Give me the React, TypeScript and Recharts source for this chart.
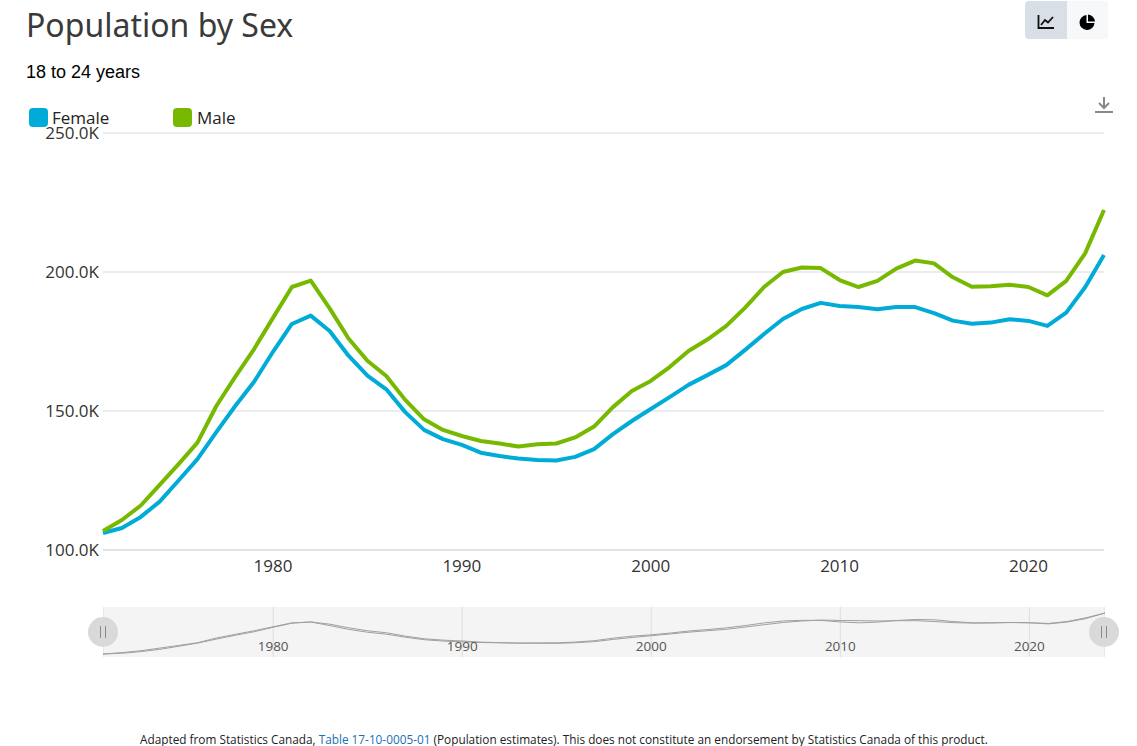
import { LineChart, Line, XAxis, YAxis, CartesianGrid } from 'recharts'

const years = [
  1971, 1972, 1973, 1974, 1975, 1976, 1977, 1978, 1979, 1980, 1981, 1982, 1983, 1984, 1985, 1986, 1987, 1988,
  1989, 1990, 1991, 1992, 1993, 1994, 1995, 1996, 1997, 1998, 1999, 2000, 2001, 2002, 2003, 2004, 2005, 2006,
  2007, 2008, 2009, 2010, 2011, 2012, 2013, 2014, 2015, 2016, 2017, 2018, 2019, 2020, 2021, 2022, 2023, 2024,
]

// thousands of persons
const female = [
  106.1, 107.9, 111.9, 117.4, 125, 132.7, 142.4, 151.8, 160.5, 171.3, 181.3, 184.3, 178.8, 169.9, 162.7, 157.8, 149.6, 143.2,
  139.9, 137.8, 135, 133.8, 132.9, 132.4, 132.2, 133.5, 136.3, 141.7, 146.4, 150.7, 155, 159.4, 162.9, 166.5, 172, 177.7,
  183.1, 186.7, 188.9, 187.8, 187.4, 186.6, 187.4, 187.4, 185.2, 182.5, 181.4, 181.8, 183, 182.4, 180.6, 185.4, 194.5, 206.1,
]

const male = [
  106.8, 110.8, 116, 123.4, 130.9, 138.6, 151.8, 162.3, 172.3, 183.5, 194.6, 196.9, 186.9, 176.1, 168.1, 162.6, 154, 147,
  143.2, 141, 139.2, 138.3, 137.2, 138, 138.3, 140.5, 144.4, 151.4, 157.2, 160.8, 165.8, 171.6, 175.7, 180.6, 187.2, 194.6,
  200, 201.6, 201.4, 197.1, 194.6, 196.8, 201.2, 204.1, 203.1, 198.1, 194.7, 194.9, 195.4, 194.6, 191.6, 196.8, 206.7, 222.3,
]

const yTicks = [100, 150, 200, 250]
const xTicks = [1980, 1990, 2000, 2010, 2020]

const COLORS = {
  female: '#00acd7',
  male: '#76b900',
}

const legendItems = [
  { label: 'Female', color: COLORS.female, left: 29, textLeft: 52 },
  { label: 'Male', color: COLORS.male, left: 173, textLeft: 197 },
]

const data = years.map((year, i) => ({ year, female: female[i], male: male[i] }))

const FONT = '"Open Sans", sans-serif'

// overview strip scales each series to its own min/max
function stripDomain(values: number[]): [number, number] {
  const lo = Math.min(...values)
  const hi = Math.max(...values)
  const range = hi - lo
  return [lo - (range * 3) / 41, hi + (range * 6) / 41]
}

function StripTick({ x, y, payload }: any) {
  return (
    <text x={x} y={y - 14} textAnchor="middle" fontSize={13.5} fontFamily={FONT} fill="#555">
      {payload.value}
    </text>
  )
}

function Handle({ left }: { left: number }) {
  return (
    <div
      style={{
        position: 'absolute',
        left: left - 15,
        top: 617,
        width: 30,
        height: 30,
        borderRadius: '50%',
        background: '#d9d9d9',
      }}
    >
      <div style={{ position: 'absolute', left: 12, top: 9, width: 1, height: 12, background: '#8a8a8a' }} />
      <div style={{ position: 'absolute', left: 17, top: 9, width: 1, height: 12, background: '#8a8a8a' }} />
    </div>
  )
}

export default function App() {
  return (
    <div style={{ position: 'absolute', left: 0, top: 0, width: 1137, height: 746, overflow: 'hidden', background: '#fff' }}>
      <div style={{ position: 'absolute', left: 26, top: 3, fontFamily: '"Noto Sans", sans-serif', fontSize: 32, color: '#3a3a3a', lineHeight: '44px' }}>
        Population by Sex
      </div>
      <div style={{ position: 'absolute', left: 26, top: 62, fontFamily: '"Liberation Sans", sans-serif', fontSize: 18, color: '#000', lineHeight: '20px' }}>
        18 to 24 years
      </div>

      {/* toggle buttons */}
      <div style={{ position: 'absolute', left: 1025, top: 1, width: 42, height: 38, background: '#d9dfe7', borderRadius: '4px 0 0 4px' }}>
        <svg width="42" height="38" viewBox="0 0 42 38">
          <path d="M13.5 14 V27 H29" fill="none" stroke="#111" strokeWidth="1.8" />
          <path d="M16 24 L20 19 L23 21.5 L28 16" fill="none" stroke="#111" strokeWidth="1.8" />
        </svg>
      </div>
      <div style={{ position: 'absolute', left: 1067, top: 1, width: 41, height: 38, background: '#f7f8fa', borderRadius: '0 4px 4px 0' }}>
        <svg width="41" height="38" viewBox="0 0 41 38">
          <path d="M19.5 14 A7.5 7.5 0 1 0 27.5 22 H19.5 Z" fill="#000" />
          <path d="M21 13.5 A7.5 7.5 0 0 1 28 20.5 H21 Z" fill="#000" />
        </svg>
      </div>

      {/* download */}
      <svg style={{ position: 'absolute', left: 1094, top: 95 }} width="20" height="20" viewBox="0 0 20 20">
        <path d="M10 2 V12 M5 8 L10 13 L15 8" fill="none" stroke="#888" strokeWidth="2" />
        <path d="M1 17 H19" stroke="#888" strokeWidth="2" />
      </svg>

      {legendItems.map(item => (
        <div key={item.label}>
          <div style={{ position: 'absolute', left: item.left, top: 108, width: 19, height: 19, borderRadius: 4, background: item.color }} />
          <div style={{ position: 'absolute', left: item.textLeft, top: 107, fontFamily: FONT, fontSize: 17, lineHeight: '22px', color: '#222' }}>
            {item.label}
          </div>
        </div>
      ))}

      <div style={{ position: 'absolute', left: 0, top: 0 }}>
        <LineChart width={1137} height={590} data={data} margin={{ top: 133, right: 33, bottom: 0, left: 102 }}>
          <CartesianGrid vertical={false} stroke="#d9d9d9" />
          <XAxis
            dataKey="year"
            type="number"
            domain={[1971, 2024]}
            ticks={xTicks}
            height={40}
            tickLine={false}
            axisLine={{ stroke: '#d9d9d9' }}
            tick={{ fontSize: 17, fill: '#333', fontFamily: FONT }}
            tickMargin={4}
          />
          <YAxis
            domain={[100, 250]}
            ticks={yTicks}
            width={1}
            tickLine={false}
            tickSize={0}
            axisLine={false}
            tickFormatter={v => `${v.toFixed(1)}K`}
            tick={{ fontSize: 17, fill: '#333', fontFamily: FONT }}
            tickMargin={4}
          />
          <Line dataKey="female" stroke={COLORS.female} strokeWidth={4} dot={false} isAnimationActive={false} strokeLinejoin="round" />
          <Line dataKey="male" stroke={COLORS.male} strokeWidth={4} dot={false} isAnimationActive={false} strokeLinejoin="round" />
        </LineChart>
      </div>

      {/* overview strip */}
      <div style={{ position: 'absolute', left: 103, top: 607 }}>
        <LineChart width={1002} height={51} data={data} margin={{ top: 0, right: 0, bottom: 0, left: 0 }}>
          <CartesianGrid horizontal={false} stroke="#dddddd" fill="#f4f4f4" />
          <XAxis dataKey="year" type="number" domain={[1971, 2024]} ticks={xTicks} height={1} tickLine={false} axisLine={false} tick={<StripTick />} interval={0} />
          <YAxis yAxisId="f" hide domain={stripDomain(female)} />
          <YAxis yAxisId="m" hide domain={stripDomain(male)} />
          <Line yAxisId="f" dataKey="female" stroke="#a0a0a0" strokeWidth={1} dot={false} isAnimationActive={false} />
          <Line yAxisId="m" dataKey="male" stroke="#a0a0a0" strokeWidth={1} dot={false} isAnimationActive={false} />
        </LineChart>
      </div>
      <Handle left={103} />
      <Handle left={1104} />

      <div style={{ position: 'absolute', left: 140, top: 731, whiteSpace: 'nowrap', fontFamily: FONT, fontSize: 11.8, lineHeight: '16px', color: '#222' }}>
        Adapted from Statistics Canada, <span style={{ color: '#1a6fb5' }}>Table 17-10-0005-01</span> (Population estimates). This does not constitute an endorsement by Statistics Canada of this product.
      </div>
    </div>
  )
}
